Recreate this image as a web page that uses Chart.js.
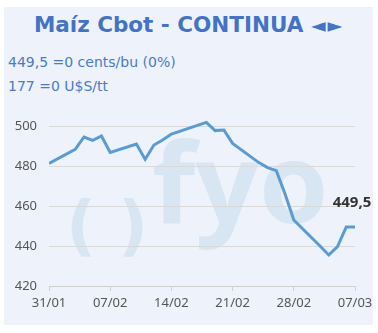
<!DOCTYPE html>
<html>
<head>
<meta charset="utf-8">
<script src="https://cdn.jsdelivr.net/npm/chart.js@4"></script>
<style>
  html, body { margin: 0; padding: 0; background: #fff; }
  #wrap { position: relative; width: 378px; height: 333px; overflow: hidden; }
  #panel { position: absolute; left: 4px; top: 7px; width: 369px; height: 318px; background: #EEF2FA; }
  #title { position: absolute; left: 0; width: 378px; top: 12px; text-align: center;
           font: bold 21.5px "DejaVu Sans", Verdana, sans-serif; color: #4472C4; white-space: nowrap; }
  #title span { font-size: 19px; letter-spacing: 2px; }
  .sub { position: absolute; left: 8px; font: 14px "DejaVu Sans", Verdana, sans-serif; color: #4A7BC8; white-space: nowrap; }
  #chart { position: absolute; left: 0; top: 0; }
</style>
</head>
<body>
<div id="wrap">
  <div id="panel"></div>
  <div id="title">Maíz Cbot - CONTINUA <span>◄►</span></div>
  <div class="sub" style="top:54px">449,5 =0 cents/bu (0%)</div>
  <div class="sub" style="top:78px">177 =0 U$S/tt</div>
  <canvas id="chart" width="378" height="333"></canvas>
</div>
<script>
// trading days (dd/mm)
const dates = ['31/01', '03/02', '04/02', '05/02', '06/02', '07/02', '10/02', '11/02', '12/02', '13/02',
               '14/02', '18/02', '19/02', '20/02', '21/02', '24/02', '25/02', '26/02', '27/02', '28/02',
               '03/03', '04/03', '05/03', '06/03', '07/03'];
const prices = [481.3, 488.3, 494.5, 492.8, 495.0, 486.8, 491.0, 483.3, 490.5, 493.0,
                496.0, 501.8, 497.7, 498.0, 491.3, 481.7, 479.2, 477.7, 466.0, 453.0,
                440.0, 435.5, 439.7, 449.5, 449.5];
const xTickLabels = ['31/01', '07/02', '14/02', '21/02', '28/02', '07/03'];
const yTicks = [420, 440, 460, 480, 500];
const lastLabel = '449,5';

// days since 31/01
function toDay(s) {
    const [d, m] = s.split('/');
    if (m === '01') return Number(d) - 31;
    if (m === '02') return Number(d);
    return 28 + Number(d);
}

const points = dates.map((d, i) => ({ x: toDay(d), y: prices[i] }));

// faint fyo watermark behind the plot
const watermark = {
    id: 'watermark',
    beforeDraw(chart) {
        const ctx = chart.ctx;
        ctx.save();
        ctx.fillStyle = 'rgba(170, 206, 229, 0.33)';
        ctx.textBaseline = 'alphabetic';
        ctx.font = 'bold 66px "DejaVu Sans", sans-serif';
        ctx.fillText('(', 66, 248);
        ctx.fillText(')', 118, 248);
        ctx.font = 'bold 112px "Open Sans", sans-serif';
        ctx.fillText('fyo', 152, 223);
        ctx.restore();
    }
};

// value label over the last point
const lastValue = {
    id: 'lastValue',
    afterDatasetsDraw(chart) {
        const meta = chart.getDatasetMeta(0);
        const pt = meta.data[meta.data.length - 1];
        const ctx = chart.ctx;
        ctx.save();
        ctx.font = 'bold 15px "Open Sans", sans-serif';
        ctx.fillStyle = '#333333';
        ctx.textAlign = 'center';
        ctx.textBaseline = 'middle';
        ctx.fillText(lastLabel, pt.x - 3, pt.y - 24);
        ctx.restore();
    }
};

new Chart(document.getElementById('chart').getContext('2d'), {
    type: 'line',
    data: {
        datasets: [{
            data: points,
            borderColor: '#5B9BD5',
            borderWidth: 3,
            pointRadius: 0,
            tension: 0,
            fill: false
        }]
    },
    options: {
        responsive: false,
        animation: false,
        layout: { padding: { left: 0, right: 23, top: 106, bottom: 0 } },
        plugins: { legend: { display: false }, tooltip: { enabled: false } },
        scales: {
            x: {
                type: 'linear',
                min: 0,
                max: 35,
                afterBuildTicks: s => { s.ticks = xTickLabels.map(l => ({ value: toDay(l) })); },
                afterFit: s => { s.height = 47; },
                ticks: {
                    callback: v => xTickLabels.find(l => toDay(l) === v) || '',
                    color: '#555555',
                    font: { family: '"Noto Sans", sans-serif', size: 13 },
                    padding: 4,
                    maxRotation: 0
                },
                grid: { drawOnChartArea: false, drawTicks: true, tickLength: 5, color: '#D0D0D0' },
                border: { color: '#D0D0D0' }
            },
            y: {
                min: 420,
                max: 510,
                afterBuildTicks: s => { s.ticks = yTicks.map(v => ({ value: v })); },
                afterFit: s => { s.width = 49; },
                ticks: {
                    color: '#555555',
                    font: { family: '"Noto Sans", sans-serif', size: 13 },
                    padding: 12
                },
                grid: { drawTicks: false, color: '#D9D9D9' },
                border: { display: false }
            }
        }
    },
    plugins: [watermark, lastValue]
});
</script>
</body>
</html>
